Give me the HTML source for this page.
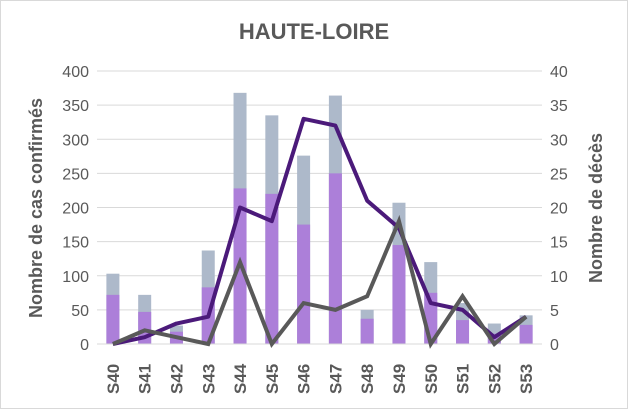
<!DOCTYPE html>
<html><head><meta charset="utf-8"><style>
body{margin:0;background:#fff;font-family:"Liberation Sans",sans-serif;}
</style></head><body>
<svg id="c" width="628" height="409">
<rect x="0.5" y="0.5" width="627" height="408" fill="#fff" stroke="#d9d9d9"/>
<text x="314" y="39" text-anchor="middle" font-size="22" font-weight="bold" fill="#595959">HAUTE-LOIRE</text>
<text transform="translate(42,208) rotate(-90)" text-anchor="middle" font-size="18" font-weight="bold" fill="#595959">Nombre de cas confirmés</text>
<text transform="translate(602,208) rotate(-90)" text-anchor="middle" font-size="18" font-weight="bold" fill="#595959">Nombre de décès</text>
<g id="g"></g>
</svg>
<script>
const categories=["S40","S41","S42","S43","S44","S45","S46","S47","S48","S49","S50","S51","S52","S53"];
const totalCases=[103,72,27,137,368,335,276,364,50,207,120,60,30,42];
const purpleCases=[72,47,18,83,228,220,175,250,37,145,75,35,15,28];
const deathsPurple=[0,1,3,4,20,18,33,32,21,17,6,5,1,4];
const deathsGray=[0,2,1,0,12,0,6,5,7,18,0,7,0,4];
const leftTicks=[0,50,100,150,200,250,300,350,400];
const rightTicks=[0,5,10,15,20,25,30,35,40];
const ns="http://www.w3.org/2000/svg",g=document.getElementById('g');
const X0=97,X1=542,Y0=344,Y1=71;
const step=(X1-X0)/categories.length;
const xc=i=>X0+step*(i+0.5);
const yl=v=>Y0-(v/400)*(Y0-Y1);
const yr=v=>Y0-(v/40)*(Y0-Y1);
function mk(t,a){const e=document.createElementNS(ns,t);for(const k in a)e.setAttribute(k,a[k]);g.appendChild(e);return e;}
leftTicks.forEach((v,i)=>{
 const l=mk('line',{x1:X0,x2:X1,y1:yl(v),y2:yl(v),stroke:'#d9d9d9'});
 
 
 const t=mk('text',{x:X0-8,y:yl(v)+6,'text-anchor':'end','font-size':16,fill:'#595959'});
 t.textContent=v;
 
 
});
rightTicks.forEach(v=>{
 const t=mk('text',{x:X1+8,y:yr(v)+6,'font-size':16,fill:'#595959'});
 t.textContent=v;
 
 
});
const bw=13;
categories.forEach((c,i)=>{
 const b=mk('rect',{x:xc(i)-bw/2,y:yl(totalCases[i]),width:bw,height:yl(0)-yl(totalCases[i]),fill:'#adb9ca'});
 
 
 const p=mk('rect',{x:xc(i)-bw/2,y:yl(purpleCases[i]),width:bw,height:yl(0)-yl(purpleCases[i]),fill:'#ac7fd9'});
 
 
 const t=mk('text',{transform:`translate(${xc(i)+6},${394}) rotate(-90)`,'font-size':17,'font-weight':'bold',fill:'#595959'});
 t.textContent=c;
 
 
});
const ax=mk('line',{x1:X0,x2:X1,y1:Y0,y2:Y0,stroke:'#d9d9d9'});


const l1=mk('polyline',{points:deathsPurple.map((v,i)=>xc(i)+','+yr(v)).join(' '),fill:'none',stroke:'#4b1a7a','stroke-width':4,'stroke-linejoin':'round'});


const l2=mk('polyline',{points:deathsGray.map((v,i)=>xc(i)+','+yr(v)).join(' '),fill:'none',stroke:'#595959','stroke-width':4,'stroke-linejoin':'miter'});


</script>
</body></html>
